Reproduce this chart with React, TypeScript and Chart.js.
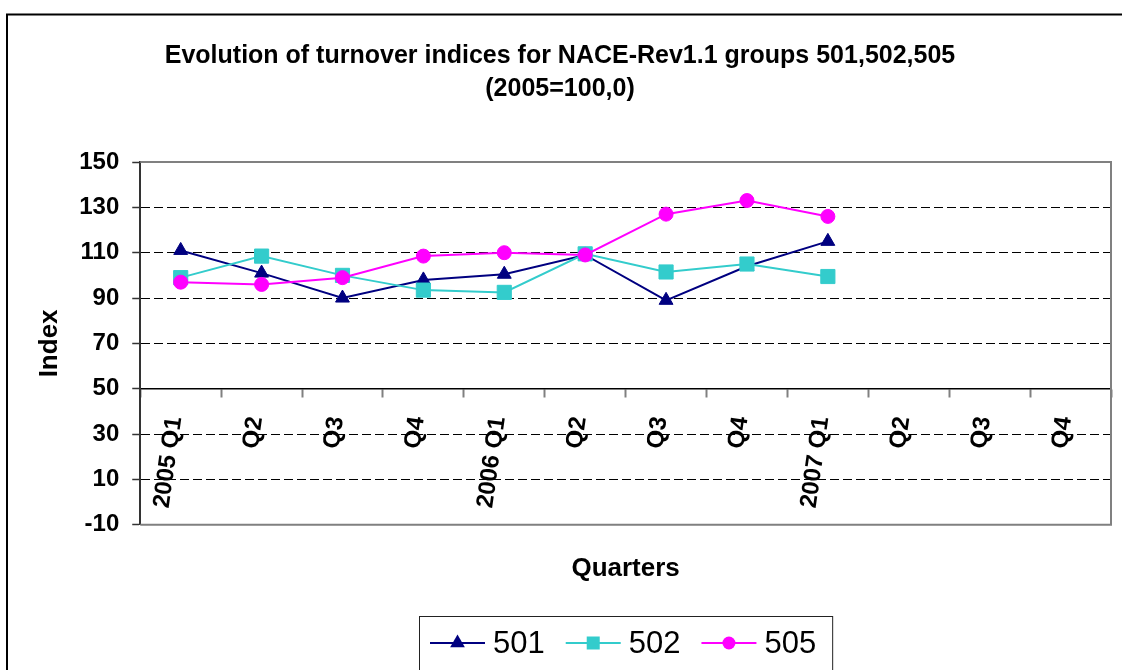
import React, { useEffect, useRef } from "react";
import { Chart, registerables } from "chart.js";

Chart.register(...registerables);

const FONT = '"Liberation Sans", Arial, Helvetica, sans-serif';

const categories = ["2005 Q1", "Q2", "Q3", "Q4", "2006 Q1", "Q2", "Q3", "Q4", "2007 Q1", "Q2", "Q3", "Q4"];
const seriesNames = ["501", "502", "505"];
const values501 = [111, 101, 90, 98, 100.5, 109, 89, 104, 115, null, null, null];
const values502 = [99, 108.5, 100, 93.5, 92.5, 109.5, 101.5, 105, 99.5, null, null, null];
const values505 = [97, 96, 99, 108.5, 110, 109, 127, 133, 126, null, null, null];
const yMin = -10;
const yMax = 150;
const yStep = 20;
const titleLines = ["Evolution of turnover indices for NACE-Rev1.1 groups 501,502,505", "(2005=100,0)"];
const xTitle = "Quarters";
const yTitle = "Index";

function drawMarker(ctx: CanvasRenderingContext2D, style: string, x: number, y: number, color: string) {
  ctx.fillStyle = color;
  ctx.beginPath();
  if (style === "triangle") {
    const r = 8.5;
    ctx.moveTo(x, y - r);
    ctx.lineTo(x + r * 0.866, y + r * 0.5);
    ctx.lineTo(x - r * 0.866, y + r * 0.5);
    ctx.closePath();
  } else if (style === "rect") {
    ctx.rect(x - 6.5, y - 6.5, 13, 13);
  } else {
    ctx.arc(x, y, 6.5, 0, Math.PI * 2);
  }
  ctx.fill();
}

const framePlugin = {
  id: "excelFrame",
  beforeDraw(chart: any) {
    const ctx = chart.ctx as CanvasRenderingContext2D;
    ctx.save();
    ctx.fillStyle = "#fff";
    ctx.fillRect(0, 0, chart.width, chart.height);
    ctx.strokeStyle = "#000";
    ctx.lineWidth = 2;
    ctx.strokeRect(7, 14.5, chart.width + 50, chart.height + 50);
    ctx.restore();
  },
  beforeDatasetsDraw(chart: any) {
    const ctx = chart.ctx as CanvasRenderingContext2D;
    const { left, right, top, bottom } = chart.chartArea;
    ctx.save();
    ctx.strokeStyle = "#808080";
    ctx.lineWidth = 2;
    ctx.beginPath();
    ctx.moveTo(left, top);
    ctx.lineTo(right, top);
    ctx.lineTo(right, bottom);
    ctx.lineTo(left, bottom);
    ctx.stroke();
    ctx.restore();
  },
  afterDraw(chart: any) {
    const ctx = chart.ctx as CanvasRenderingContext2D;
    ctx.save();
    ctx.font = "31px " + FONT;
    const lineLen = 55, gap = 8, itemGap = 21, padL = 11, padR = 16;
    const ws = chart.data.datasets.map((d: any) => ctx.measureText(d.label).width);
    const total = padL + padR + ws.reduce((a: number, w: number) => a + lineLen + gap + w, 0) + itemGap * (ws.length - 1);
    const cx = (chart.chartArea.left + chart.chartArea.right) / 2;
    const x0 = Math.round(cx - total / 2);
    const top = chart.height - 54;
    ctx.strokeStyle = "#222";
    ctx.lineWidth = 1;
    ctx.strokeRect(x0 + 0.5, top + 0.5, total, 200);
    const cy = top + 27;
    let x = x0 + padL;
    chart.data.datasets.forEach((ds: any, i: number) => {
      ctx.strokeStyle = ds.borderColor;
      ctx.lineWidth = 2;
      ctx.beginPath();
      ctx.moveTo(x, cy);
      ctx.lineTo(x + lineLen, cy);
      ctx.stroke();
      drawMarker(ctx, ds.pointStyle, x + lineLen / 2, cy, ds.backgroundColor);
      ctx.fillStyle = "#000";
      ctx.textBaseline = "middle";
      ctx.textAlign = "left";
      ctx.fillText(ds.label, x + lineLen + gap, cy + 1);
      x += lineLen + gap + ws[i] + itemGap;
    });
    ctx.restore();
  },
};

export default function App() {
  const ref = useRef<HTMLCanvasElement>(null);

  useEffect(() => {
    Chart.defaults.font.family = FONT;
    const chart = new Chart(ref.current as HTMLCanvasElement, {
      type: "line",
      data: {
        labels: categories,
        datasets: [
          {
            label: seriesNames[0],
            data: values501,
            borderColor: "#000080",
            backgroundColor: "#000080",
            pointStyle: "triangle",
            pointRadius: 8,
            pointBorderWidth: 1,
            borderWidth: 2,
            tension: 0,
            order: 2,
          },
          {
            label: seriesNames[1],
            data: values502,
            borderColor: "#33CCCC",
            backgroundColor: "#33CCCC",
            pointStyle: "rect",
            pointRadius: 10,
            pointBorderWidth: 1,
            borderWidth: 2,
            tension: 0,
            order: 1,
          },
          {
            label: seriesNames[2],
            data: values505,
            borderColor: "#FF00FF",
            backgroundColor: "#FF00FF",
            pointStyle: "circle",
            pointRadius: 7,
            pointBorderWidth: 1,
            borderWidth: 2,
            tension: 0,
            order: 0,
          },
        ],
      } as any,
      options: {
        animation: false,
        responsive: false,
        devicePixelRatio: 1,
        layout: { padding: { top: 14, left: -6, right: -4, bottom: 86 } },
        plugins: {
          legend: { display: false },
          tooltip: { enabled: false },
          title: {
            display: true,
            text: titleLines,
            color: "#000",
            font: { size: 25, weight: "bold", lineHeight: 1.3 },
            padding: { top: 26, bottom: 57 },
          },
          subtitle: {
            display: true,
            position: "bottom",
            fullSize: false,
            text: xTitle,
            color: "#000",
            font: { size: 26, weight: "bold", lineHeight: 1.2 },
            padding: { top: 28, bottom: 0 },
          },
        },
        scales: {
          x: {
            type: "category",
            position: { y: 50 } as any,
            offset: true,
            afterFit: (s: any) => {
              s.paddingLeft = 0;
              s.paddingRight = 0;
            },
            grid: {
              display: true,
              drawOnChartArea: false,
              drawTicks: true,
              tickLength: 8,
              tickColor: "#808080",
              tickWidth: 2,
              offset: true,
            },
            border: { display: true, color: "#000", width: 1.5 },
            ticks: {
              autoSkip: false,
              minRotation: 82,
              maxRotation: 82,
              color: "#000",
              font: { size: 24, weight: "bold" },
              padding: 18,
              labelOffset: -6,
            },
          },
          y: {
            type: "linear",
            min: yMin,
            max: yMax,
            grid: {
              color: (c: any) => {
                const v = c.tick ? c.tick.value : null;
                return v === yMin || v === yMax || v === 50 ? "rgba(0,0,0,0)" : "#000";
              },
              lineWidth: 1,
              drawTicks: true,
              tickLength: 8,
              tickColor: "#333",
              tickWidth: 1.5,
              tickBorderDash: [],
            },
            border: { display: true, color: "#333", width: 2, dash: [9, 4] },
            ticks: {
              stepSize: yStep,
              color: "#000",
              font: { size: 24, weight: "bold" },
              padding: 13,
            },
            title: {
              display: true,
              text: yTitle,
              color: "#000",
              font: { size: 26, weight: "bold", lineHeight: 1.2 },
              padding: { top: 40, bottom: 1 },
            },
          },
        },
      } as any,
      plugins: [framePlugin],
    });
    return () => chart.destroy();
  }, []);

  return (
    <div style={{ position: "absolute", left: 0, top: 0, width: 1122, height: 670, background: "#fff" }}>
      <canvas ref={ref} width={1122} height={670} style={{ display: "block" }} />
    </div>
  );
}
